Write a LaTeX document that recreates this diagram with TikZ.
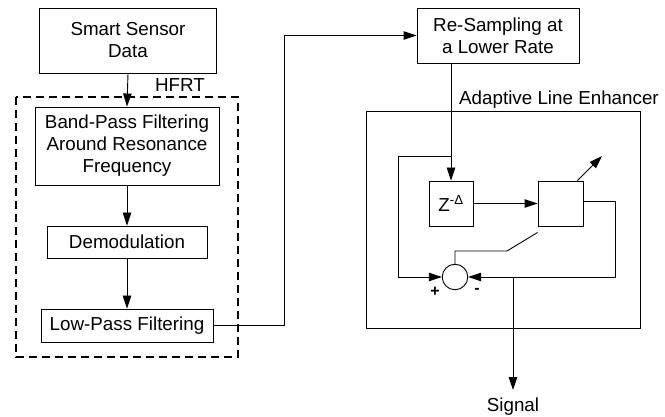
\documentclass[tikz,border=0pt]{standalone}
\usepackage{fontspec}
\setmainfont{Liberation Sans}
\usetikzlibrary{arrows.meta,positioning}
\begin{document}
\begin{tikzpicture}[x=1pt,y=-1pt,
  every node/.style={font=\fontsize{18.8}{22}\selectfont},
  blk/.style={draw, line width=0.9pt, inner sep=0pt, align=center},
  wire/.style={line width=0.9pt},
  arr/.style={wire, -{Triangle[length=13pt,width=8.5pt]}},
  lbl/.style={inner sep=0pt}
]
\useasboundingbox (0,0) rectangle (665,417);

% HFRT chain
\node[blk, minimum width=177pt, minimum height=65pt] (ssd) at (128,40.5) {Smart Sensor\\Data};
\draw[line width=1.5pt, dash pattern=on 8pt off 5pt] (16,97) rectangle (238,357);
\node[lbl] (hfrt) at (180,85) {HFRT};
\node[blk, minimum width=184pt, minimum height=78pt] (bpf) at (127,146) {Band-Pass Filtering\\Around Resonance\\Frequency};
\node[blk, minimum width=160pt, minimum height=32pt] (dem) at (127,242) {Demodulation};
\node[blk, minimum width=172pt, minimum height=33pt] (lpf) at (127,325.5) {Low-Pass Filtering};

\draw[arr] (ssd.south) -- (bpf.north);
\draw[arr] (bpf.south) -- (dem.north);
\draw[arr] (dem.south) -- (lpf.north);

% re-sampling stage
\node[blk, minimum width=162pt, minimum height=55pt] (rs) at (498,35.5) {Re-Sampling at\\a Lower Rate};
\coordinate (up) at (284,325.5);
\draw[arr] (lpf.east) -- (up) |- (rs.west);

% adaptive line enhancer
\draw[wire] (366,111) rectangle (640,328);
\node[lbl, anchor=east] (ale) at (659,100) {Adaptive Line Enhancer};

\node[blk, minimum width=44pt, minimum height=45pt] (z) at (451,203.5) {Z\textsuperscript{-Δ}};
\node[blk, minimum width=45pt, minimum height=45pt] (f) at (560.5,203.5) {};
\node[draw, circle, line width=0.9pt, minimum size=25.5pt, inner sep=0pt] (sum) at (455,277) {};

\coordinate (tap) at (451,156);
\coordinate (ltop) at (398,156);
\coordinate (adj) at (602,156);
\coordinate (bend) at (507,251);
\coordinate (rtop) at (615,201);
\coordinate (out) at (513,277);
\coordinate (sig) at (513,390);

\draw[arr] (rs.south -| z.north) -- (z.north);
\draw[arr] (tap) -- (ltop) |- (sum.west);
\draw[arr] (z.east) -- (f.west |- z.east);
\draw[arr] ([xshift=-6pt]f.north east) -- (adj);
\draw[wire] ([yshift=-6pt]f.south west) -- (bend) -- (bend -| sum.north) -- (sum.north);
\draw[arr] (f.east |- rtop) -- (rtop) |- (sum.east);
\draw[arr] (out) -- (sig);

\node[lbl] (plus) at (435,292) {\fontsize{16}{16}\selectfont\textbf{+}};
\node[lbl] (minus) at (477,291) {\fontsize{16}{16}\selectfont\textbf{-}};
\node[lbl] (signal) at (513,407) {Signal};
\end{tikzpicture}
\end{document}
